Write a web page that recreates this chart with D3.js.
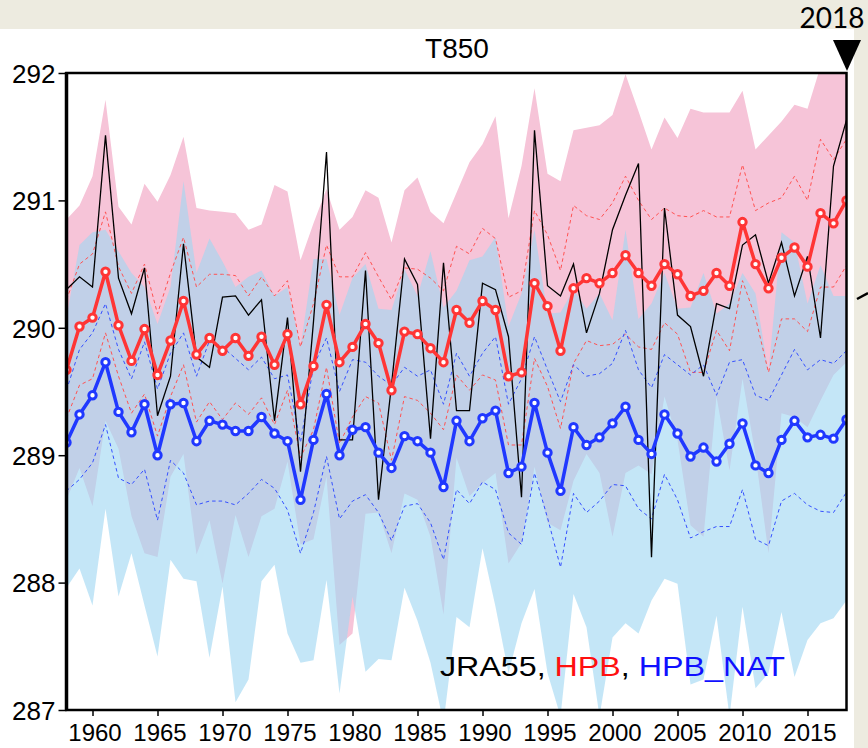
<!DOCTYPE html>
<html>
<head>
<meta charset="utf-8">
<script src="https://cdn.jsdelivr.net/npm/d3@7"></script>
<style>
  html, body { margin: 0; padding: 0; background: #edebe0; }
  svg { display: block; }
</style>
</head>
<body>
<svg id="chart" width="868" height="748"></svg>
<script>
// Years of the record
const years = d3.range(1958, 2019);

// JRA55 reanalysis
const jra55 = [290.30,290.40,290.32,291.51,290.39,290.11,290.47,289.31,289.62,290.66,
  289.77,289.69,290.24,290.25,290.10,290.22,289.27,290.08,288.87,290.05,
  291.38,289.12,289.12,290.45,288.65,289.55,290.54,290.34,289.13,290.51,
  289.35,289.35,290.35,290.30,289.93,288.67,291.55,290.33,290.25,290.50,
  289.96,290.27,290.77,291.04,291.29,288.20,290.94,290.10,290.01,289.62,
  290.19,290.15,290.65,290.73,290.35,290.67,290.25,290.56,289.92,291.27,291.63];

// HPB ensemble: mean, +/- spread, min and max
const hpbMean = [289.67,290.01,290.08,290.44,290.02,289.74,289.99,289.63,289.90,290.21,
  289.79,289.92,289.82,289.92,289.78,289.93,289.71,289.95,289.40,289.70,
  290.18,289.73,289.85,290.03,289.88,289.51,289.97,289.95,289.84,289.73,
  290.14,290.04,290.21,290.14,289.62,289.65,290.35,290.17,289.82,290.31,
  290.39,290.35,290.43,290.57,290.43,290.33,290.50,290.42,290.25,290.29,
  290.43,290.33,290.83,290.50,290.31,290.55,290.63,290.48,290.90,290.82,291.00];
const hpbUpper = [290.22,290.50,290.58,290.91,290.48,290.27,290.50,290.11,290.43,290.71,
  290.32,290.42,290.42,290.41,290.25,290.40,290.25,290.37,289.85,290.19,
  290.65,290.40,290.40,290.59,290.40,290.22,290.47,290.46,290.39,290.29,
  290.64,290.58,290.78,290.70,290.24,290.29,290.92,290.73,290.45,290.96,
  290.88,290.85,290.98,291.19,291.00,290.85,290.94,290.88,290.87,290.92,
  290.87,290.87,291.28,290.92,290.98,291.02,291.19,291.00,291.48,291.32,291.48];
const hpbLower = [289.29,289.55,289.60,289.96,289.62,289.33,289.48,289.15,289.46,289.71,
  289.26,289.42,289.28,289.41,289.32,289.45,289.24,289.51,288.98,289.20,
  289.69,289.09,289.30,289.46,289.41,288.96,289.46,289.43,289.33,289.20,
  289.63,289.51,289.63,289.59,289.08,289.08,289.76,289.54,289.21,289.72,
  289.90,289.86,289.87,289.95,289.85,289.83,290.04,289.95,289.65,289.65,
  289.98,289.82,290.37,290.08,289.65,290.07,290.07,289.97,290.32,290.32,290.49];
const hpbMax = [290.85,290.96,291.19,291.79,290.95,290.81,291.13,290.99,291.20,291.50,
  290.94,290.92,290.91,290.90,290.77,290.81,291.12,291.07,290.53,290.82,
  291.09,290.77,290.87,291.08,291.02,290.67,291.08,291.18,290.91,290.82,
  291.06,291.30,291.44,291.66,290.86,291.27,291.88,291.21,291.15,291.55,
  291.57,291.59,291.67,291.99,291.70,291.40,291.65,291.49,291.72,291.69,
  291.69,291.69,291.86,291.40,291.51,291.62,291.75,291.72,292.05,292.20,292.30];
const hpbMin = [288.65,288.90,288.60,289.27,289.05,288.52,288.23,288.20,288.83,289.01,
  288.22,288.49,287.99,288.53,288.20,288.52,288.58,288.95,288.30,288.34,
  288.83,287.51,287.60,288.54,288.55,288.23,288.70,288.65,288.36,287.75,
  288.98,288.68,288.78,288.86,288.15,288.31,288.91,288.47,288.41,288.80,
  289.01,288.86,288.36,288.86,288.92,288.85,289.46,289.12,288.45,288.36,
  289.46,288.88,289.60,289.00,288.23,289.33,289.30,289.22,289.43,289.63,289.73];

// HPB_NAT ensemble: mean, +/- spread, min and max
const natMean = [289.10,289.32,289.47,289.73,289.34,289.18,289.40,289.00,289.40,289.41,
  289.11,289.27,289.24,289.19,289.19,289.30,289.17,289.11,288.65,289.12,
  289.48,289.00,289.20,289.22,289.02,288.90,289.15,289.11,289.02,288.75,
  289.27,289.11,289.29,289.35,288.86,288.91,289.41,289.02,288.72,289.22,
  289.08,289.14,289.25,289.38,289.12,289.01,289.32,289.17,288.99,289.06,
  288.95,289.09,289.25,288.92,288.86,289.12,289.27,289.14,289.16,289.13,289.28];
const natUpper = [289.51,289.83,289.96,290.19,289.83,289.60,289.89,289.52,289.80,289.96,
  289.62,289.90,289.85,289.76,289.67,289.77,289.60,289.63,289.10,289.70,
  289.92,289.50,289.75,289.73,289.62,289.55,289.69,289.62,289.67,289.40,
  289.80,289.62,289.80,289.93,289.40,289.60,289.93,289.67,289.42,289.71,
  289.62,289.64,289.72,289.98,289.67,289.53,289.79,289.71,289.63,289.71,
  289.47,289.73,289.75,289.47,289.43,289.63,289.83,289.67,289.75,289.72,289.82];
const natLower = [288.72,288.81,288.94,289.24,288.82,288.77,288.89,288.49,288.96,288.86,
  288.61,288.64,288.64,288.61,288.70,288.81,288.74,288.57,288.23,288.55,
  288.99,288.50,288.64,288.69,288.55,288.33,288.60,288.62,288.47,288.18,
  288.73,288.62,288.79,288.73,288.39,288.30,288.86,288.51,288.12,288.70,
  288.55,288.64,288.77,288.76,288.58,288.50,288.85,288.65,288.35,288.40,
  288.44,288.44,288.73,288.34,288.29,288.64,288.70,288.61,288.56,288.55,288.71];
const natMax = [290.08,290.65,290.75,290.77,290.60,290.43,290.32,290.03,290.32,291.15,
  290.43,290.70,290.52,290.32,290.40,290.45,290.25,290.32,289.85,290.54,
  290.54,290.10,290.39,290.50,290.15,290.14,290.46,290.25,290.60,290.16,
  290.29,290.53,290.56,290.71,290.01,290.27,290.77,290.11,290.12,290.30,
  290.15,290.27,290.06,290.77,290.07,290.19,290.43,290.15,290.16,290.43,
  290.11,290.19,290.43,290.27,289.65,290.75,290.67,290.19,290.49,290.25,290.25];
const natMin = [287.96,288.11,287.82,288.58,287.89,288.23,287.82,287.42,288.18,288.03,
  288.01,287.41,287.97,287.06,287.24,288.01,288.14,287.60,287.37,287.39,
  288.02,287.13,287.89,287.30,287.40,287.39,287.96,287.70,287.37,286.90,
  287.73,287.65,288.27,287.81,287.29,287.68,287.95,287.29,286.95,287.91,
  287.65,286.95,287.57,287.68,287.60,287.86,288.03,287.99,287.20,287.24,
  287.74,286.95,287.81,287.17,287.29,287.77,287.26,287.55,287.68,287.72,287.86];

const yTicks = [287, 288, 289, 290, 291, 292];
const xTicks = d3.range(1960, 2016, 5);
const titleText = "T850";
const markerYear = "2018";

const svg = d3.select("#chart");
const W = 868, H = 748;
const plot = { left: 66.5, right: 846.5, top: 73, bottom: 710 };

// page backdrop: white sheet on a beige slide
svg.append("rect").attr("width", W).attr("height", H).attr("fill", "#edebe0");
svg.append("rect").attr("x", 0).attr("y", 29).attr("width", 854).attr("height", H - 29).attr("fill", "#ffffff");

const x = d3.scaleLinear().domain([1958, 2018]).range([plot.left, plot.right]);
const y = d3.scaleLinear().domain([287, 292]).range([plot.bottom, plot.top]);

svg.append("clipPath").attr("id", "plotClip")
  .append("rect")
  .attr("x", plot.left).attr("y", plot.top)
  .attr("width", plot.right - plot.left).attr("height", plot.bottom - plot.top);

const g = svg.append("g").attr("clip-path", "url(#plotClip)");

const band = (lo, hi) => d3.area()
  .x((d, i) => x(years[i]))
  .y0((d, i) => y(lo[i]))
  .y1((d, i) => y(hi[i]))(years);

// HPB min-max range (pink), HPB_NAT range laid over it (translucent blue)
g.append("path").attr("d", band(hpbMin, hpbMax)).attr("fill", "#f6c4d8");
g.append("path").attr("d", band(natMin, natMax)).attr("fill", "rgb(160,214,242)").attr("fill-opacity", 0.62);

const line = d3.line().x((d, i) => x(years[i])).y(d => y(d));

// spread lines
[[hpbUpper, "#ff5252"], [hpbLower, "#ff5252"], [natUpper, "#3550ff"], [natLower, "#3550ff"]]
  .forEach(([arr, col]) => {
    g.append("path").attr("d", line(arr)).attr("fill", "none")
      .attr("stroke", col).attr("stroke-width", 1).attr("stroke-dasharray", "3.5,3");
  });

// JRA55
g.append("path").attr("d", line(jra55)).attr("fill", "none")
  .attr("stroke", "#000").attr("stroke-width", 1.3);

// ensemble means with open markers
function meanSeries(arr, col) {
  g.append("path").attr("d", line(arr)).attr("fill", "none")
    .attr("stroke", col).attr("stroke-width", 3.5).attr("stroke-linejoin", "round");
  g.selectAll(null).data(arr).enter().append("circle")
    .attr("cx", (d, i) => x(years[i])).attr("cy", d => y(d))
    .attr("r", 3.7).attr("fill", "#fff").attr("stroke", col).attr("stroke-width", 3);
}
meanSeries(hpbMean, "#ff3535");
meanSeries(natMean, "#2038ff");

// frame
svg.append("rect")
  .attr("x", plot.left).attr("y", plot.top)
  .attr("width", plot.right - plot.left).attr("height", plot.bottom - plot.top)
  .attr("fill", "none").attr("stroke", "#000").attr("stroke-width", 2.5);
svg.append("line").attr("x1", plot.left).attr("x2", plot.left)
  .attr("y1", plot.top - 1).attr("y2", plot.bottom + 1)
  .attr("stroke", "#000").attr("stroke-width", 3.5);

// axes
const yAxis = svg.append("g").attr("transform", `translate(${plot.left},0)`)
  .call(d3.axisLeft(y).tickValues(yTicks).tickSize(8).tickPadding(3).tickFormat(d3.format("d")));
yAxis.select(".domain").remove();
yAxis.selectAll(".tick line").attr("stroke", "#000").attr("stroke-width", 1.5);
yAxis.selectAll(".tick text")
  .attr("font-family", "'Liberation Sans', Arial, sans-serif")
  .attr("font-size", 26).attr("fill", "#000").attr("dy", "0.36em");

const xAxis = svg.append("g").attr("transform", `translate(0,${plot.bottom})`)
  .call(d3.axisBottom(x).tickValues(xTicks).tickSize(6).tickPadding(8).tickFormat(d3.format("d")));
xAxis.select(".domain").remove();
xAxis.selectAll(".tick line").attr("stroke", "#000").attr("stroke-width", 1.5);
xAxis.selectAll(".tick text")
  .attr("font-family", "'Liberation Sans', Arial, sans-serif")
  .attr("font-size", 24).attr("fill", "#000").attr("dx", 2);

// title
svg.append("text").attr("x", 457).attr("y", 58).attr("text-anchor", "middle")
  .attr("font-family", "'Liberation Sans', Arial, sans-serif").attr("font-size", 28)
  .attr("fill", "#000").text(titleText);

// legend
const leg = svg.append("text").attr("x", 440).attr("y", 676)
  .attr("font-family", "'Liberation Sans', Arial, sans-serif").attr("font-size", 27)
  .attr("textLength", 345).attr("lengthAdjust", "spacingAndGlyphs");
leg.append("tspan").attr("fill", "#000").text("JRA55, ");
leg.append("tspan").attr("fill", "#ff1010").text("HPB");
leg.append("tspan").attr("fill", "#000").text(", ");
leg.append("tspan").attr("fill", "#1010ff").text("HPB_NAT");

// end-year marker
svg.append("text").attr("x", 832).attr("y", 28).attr("text-anchor", "middle")
  .attr("font-family", "Lato, 'Open Sans', sans-serif").attr("font-size", 28)
  .attr("fill", "#000").text(markerYear);
svg.append("path")
  .attr("d", d3.line()([[833, 40], [861, 40], [847, 71]]) + "Z")
  .attr("fill", "#000");
svg.append("line").attr("x1", 857).attr("y1", 299).attr("x2", 868).attr("y2", 293)
  .attr("stroke", "#000").attr("stroke-width", 2.5);
</script>
</body>
</html>
